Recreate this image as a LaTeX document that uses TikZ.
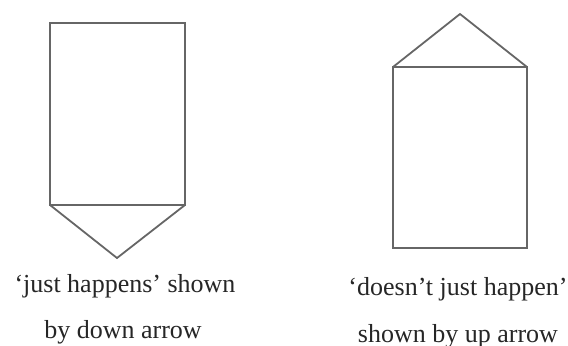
\documentclass[tikz,border=0pt]{standalone}
\usepackage{fontspec}
\setmainfont{Liberation Serif}
\usetikzlibrary{positioning}
\tikzset{
  outline/.style={
    line width=0.9pt,
    draw=black!60,
    line join=miter
  },
  caption/.style={
    anchor=base,
    font=\fontsize{13}{15}\selectfont,
    text=black!85,
    inner sep=0pt
  }
}

\begin{document}
\begin{tikzpicture}[x=0.5pt,y=-0.5pt]
        \useasboundingbox (0,0) rectangle (568,345);

        % left: box with point below
        \coordinate (dnNW) at (50,23);
        \coordinate (dnNE) at (185,23);
        \coordinate (dnSE) at (185,205);
        \coordinate (dnSW) at (50,205);
        \coordinate (dnTip) at (117,258);
        \draw[outline] (dnNW) -- (dnNE) -- (dnSE) -- (dnSW) -- cycle;
        \draw[outline] (dnSW) -- (dnTip) -- (dnSE);

        % right: box with point above
        \coordinate (upNW) at (393,67);
        \coordinate (upNE) at (527,67);
        \coordinate (upSE) at (527,248);
        \coordinate (upSW) at (393,248);
        \coordinate (upTip) at (460,14);
        \draw[outline] (upNW) -- (upNE) -- (upSE) -- (upSW) -- cycle;
        \draw[outline] (upNW) -- (upTip) -- (upNE);

        \node[caption] (dnA) at (125,292) {‘just happens’ shown};
        \node[caption] (dnB) at (123,338) {by down arrow};
        \node[caption] (upA) at (458,295) {‘doesn’t just happen’};
        \node[caption] (upB) at (458,342) {shown by up arrow};
\end{tikzpicture}
\end{document}
